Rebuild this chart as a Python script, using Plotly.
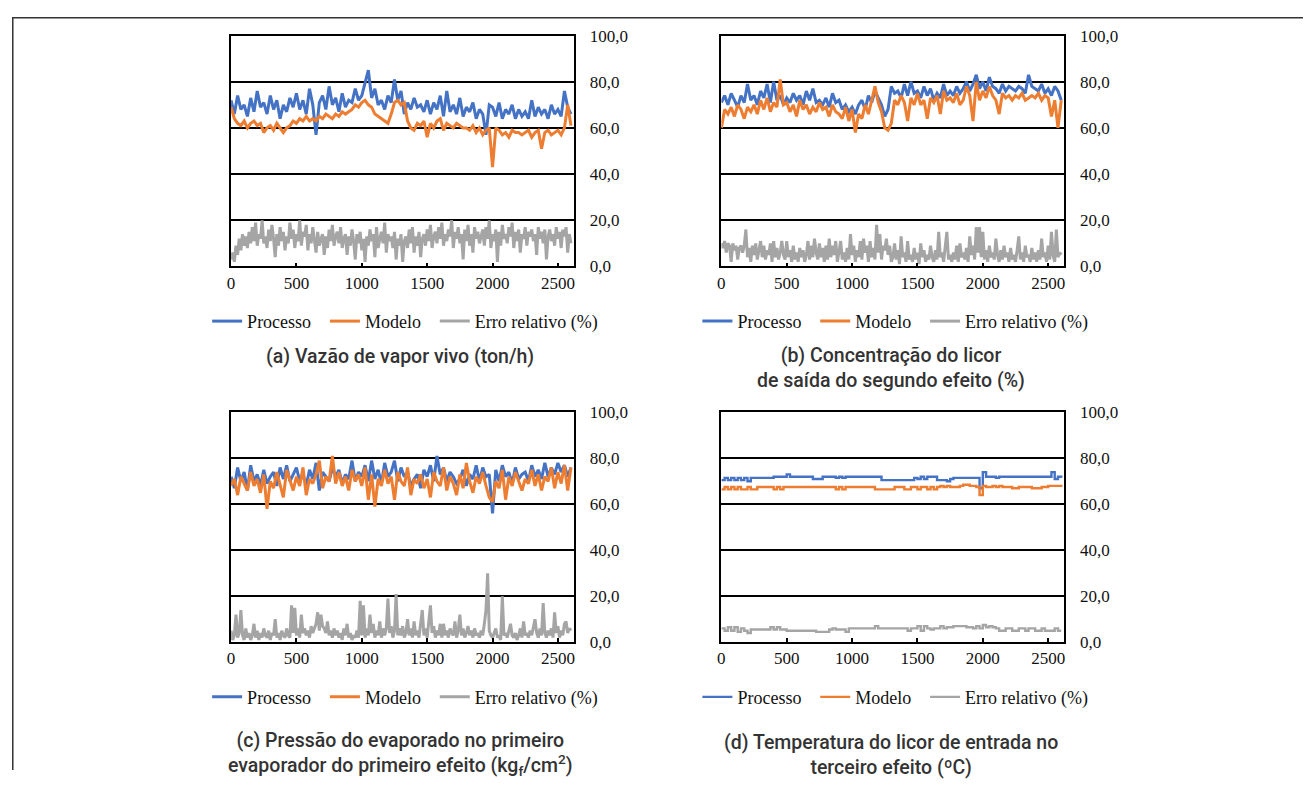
import plotly.graph_objects as go

# ---------------- data ----------------
STEP = 25
N_POINTS = 105
time_index = [i * STEP for i in range(N_POINTS)]          # coarse samples (every 25)
time_index_fine = [i * 12.5 for i in range(209)]         # fine samples (every 12.5)

# (a) Vazão de vapor vivo
a_processo = [72,66,74,68,70,65,73,67,76,69, 71,66,74,68,72,64,70,67,73,69,
              75,68,72,66,77,70,57,71,74,68, 78,70,73,67,75,69,72,71,77,72,
              74,79,85,73,77,70,72,68,74,71, 81,72,76,66,71,68,73,69,70,67,
              72,66,71,68,74,65,76,67,70,66, 73,65,69,67,71,64,68,66,57,70,
              69,65,71,64,68,66,70,64,68,65, 67,64,72,65,69,66,68,64,70,66,
              68,65,76,69,66]
a_modelo = [69,64,62,61,63,60,62,63,61,62, 58,60,61,59,62,60,58,60,61,63,
            62,64,63,65,63,64,63,65,64,66, 65,64,66,65,67,66,67,68,70,69,
            71,72,70,69,66,65,64,63,62,66, 71,72,70,71,63,60,59,62,61,63,
            56,62,60,63,64,59,62,61,60,62, 61,60,60,59,61,58,60,57,59,60,
            43,60,59,57,58,56,59,58,58,57, 58,59,56,58,59,51,58,59,57,58,
            59,57,60,70,61]
a_erro = [3,6,2,9,5,12,7,14,9,13,8,15,10,
          17,11,19,9,14,12,20,10,13,8,16,11,18,
          12,4,14,9,17,11,15,7,13,10,19,12,16,
          8,14,11,20,9,15,13,18,7,14,10,17,12,
          6,15,9,12,14,5,13,8,16,11,18,9,13,
          15,10,17,8,12,14,5,13,9,16,11,3,14,
          10,15,7,12,2,13,9,16,11,14,4,17,8,
          12,15,10,19,6,14,11,13,8,15,3,12,9,
          14,2,11,13,8,16,10,17,6,13,9,15,4,
          12,14,9,16,11,18,8,13,15,10,17,12,19,
          9,14,11,16,13,20,8,15,12,17,10,14,3,
          16,11,18,9,14,6,17,12,15,10,13,16,9,
          17,12,20,8,14,11,16,2,15,9,18,12,14,
          10,17,13,19,8,15,11,16,6,14,12,17,9,
          15,13,16,11,14,5,17,12,15,10,16,3,13,
          16,11,14,9,17,12,15,8,16,13,17,6,14,
          10]

# (b) Concentração do licor de saída do segundo efeito
b_processo = [71,74,70,75,72,69,74,71,79,72, 74,70,76,73,79,71,80,72,74,70,
              73,71,75,72,74,70,76,72,77,71, 72,70,73,69,75,71,72,68,70,67,
              69,66,70,72,68,74,71,76,73,70, 65,68,78,75,76,73,79,74,80,75,
              76,73,78,74,77,72,75,73,79,74, 76,74,78,75,77,80,76,79,83,77,
              80,76,82,78,77,75,79,76,78,77, 76,78,77,75,83,78,77,76,79,75,
              77,74,78,76,72]
b_modelo = [60,68,66,69,65,70,68,64,69,67, 70,66,72,68,73,67,71,69,81,70,
            71,67,70,65,72,68,70,66,69,67, 71,68,69,65,70,67,66,64,69,63,
            68,58,66,64,70,66,72,78,71,67, 60,59,62,72,70,74,71,63,73,70,
            75,70,72,64,73,71,74,66,76,72, 73,71,75,70,72,78,74,63,80,72,
            76,73,78,74,72,66,75,73,74,72, 74,73,75,72,73,74,73,75,72,74,
            73,65,72,60,72]
b_erro = [10,8,11,6,10,9,2,10,7,9,3,8,9,
          6,9,16,4,8,2,9,5,10,3,8,11,4,
          9,3,7,5,10,2,11,4,8,3,6,11,5,
          3,11,4,7,2,9,3,6,2,8,4,7,2,
          5,11,3,9,4,12,6,3,10,4,8,2,9,
          3,12,4,9,5,11,2,7,11,3,6,2,8,
          3,14,5,9,2,7,4,11,3,12,6,9,2,
          11,4,8,3,18,6,14,3,9,7,12,5,9,
          2,4,10,3,7,1,13,4,6,2,11,3,5,
          2,8,3,6,1,10,4,7,2,5,3,9,4,
          2,7,3,15,4,6,2,8,15,3,5,2,6,
          3,9,2,10,4,6,3,8,2,13,5,9,3,
          17,6,17,4,15,3,7,2,9,4,6,3,12,
          5,2,7,3,9,4,6,2,8,3,5,2,7,
          13,3,6,2,9,4,5,2,8,3,6,2,7,
          3,12,4,6,2,9,3,15,5,2,16,4,6,
          5]

# (c) Pressão do evaporado no primeiro evaporador do primeiro efeito
c_processo = [72,67,76,70,74,66,77,70,73,68, 75,69,72,74,68,76,71,77,70,73,
              76,70,73,68,75,71,78,66,74,72, 70,76,72,75,69,73,71,79,70,74,
              72,77,70,79,71,75,69,78,72,74, 79,70,76,72,74,68,71,73,67,75,
              72,77,70,81,73,76,70,74,72,69, 71,75,68,73,71,77,70,76,72,73,
              56,75,70,77,72,74,69,76,71,73, 74,70,77,72,75,71,78,72,76,73,
              78,74,77,72,76]
c_modelo = [68,71,64,72,69,66,74,68,71,65, 73,58,70,67,74,69,63,75,70,66,
            72,68,76,64,71,69,73,79,67,72, 70,81,69,74,68,72,66,75,70,73,
            68,76,62,73,59,71,68,75,69,72, 62,74,70,68,76,64,71,69,73,67,
            71,63,74,70,68,76,66,72,69,64, 73,67,78,70,65,72,69,74,68,63,
            61,70,67,75,62,72,68,74,70,66, 71,69,75,68,73,66,72,70,76,67,
            74,69,77,66,76]
c_erro = [5,1,3,12,2,4,14,3,1,6,2,4,1,
          3,8,2,5,1,4,2,6,3,2,5,1,4,
          3,10,2,4,1,5,3,2,6,3,2,16,4,
          15,3,6,2,12,4,6,3,5,2,7,4,6,
          8,13,5,12,7,6,4,9,3,5,2,6,3,
          5,2,4,1,6,3,8,2,4,1,3,2,5,
          2,18,3,16,2,6,3,12,4,8,2,5,3,
          9,2,6,3,6,19,4,7,2,5,21,3,6,
          3,7,2,4,10,3,6,2,9,3,5,2,7,
          14,3,6,2,9,16,4,7,2,5,3,8,2,
          8,3,5,2,6,4,3,9,2,5,12,3,6,
          2,4,7,3,5,2,6,3,4,2,5,3,8,
          14,30,5,3,2,4,6,2,3,1,20,3,4,
          2,5,8,3,2,4,1,3,6,2,9,3,4,
          2,5,3,7,10,4,2,6,3,17,4,2,5,
          3,6,2,13,4,7,2,5,3,8,9,4,6,
          5]

# (d) Temperatura do licor de entrada no terceiro efeito
d_processo = [70.5,71.5,70.5,71.5,70.5,71.5,70.5,71.5,70,71.5,
              71.5,71.5,71.5,71.5,71.5,71.5,72,72,72,72,
              73,72,72,72,72,72,72,72,71,71,
              71,72,72,72,72,71.5,72,71.5,72,72,
              72,72,72,72,72,72,72,72,72,70.5,
              70.5,70.5,70.5,70.5,70.5,70.5,70.5,70.5,70.5,71.5,
              71,72,71,72,72,72,70.5,70.5,70.5,70,
              71,71.5,71.5,71.5,71.5,71.5,71.5,71.5,71.5,67,
              74,72,72,72,71.5,72,72,72,72,72,
              72,72,72,72,72,72,72,72,72,72,
              72,74,71,72,71.5]
d_modelo = [66.5,67.5,66.5,67.5,66.5,67.5,66.5,66.5,67.5,66.5,
            66.5,67.5,67.5,67.5,67.5,67.5,66.5,67.5,66.5,67.5,
            67.5,67.5,67.5,67.5,67.5,67.5,67.5,67.5,67.5,67.5,
            67.5,67.5,67.5,67.5,67.5,66.5,67.5,66.5,67.5,67.5,
            67.5,67.5,67.5,67.5,67.5,67.5,67.5,66.5,66.5,66.5,
            66.5,66.5,66.5,67.5,67.5,67.5,66.5,66.5,67.5,67.5,
            66.5,67.5,67.5,66.5,67.5,66.5,67.5,68,67.5,68,
            67.5,67.5,67.5,68,68.5,68.5,68,68,67.5,64,
            68,67.5,67.5,68,67.5,68,67.5,67.5,67.5,67,
            67,67.5,67.5,67.5,67.5,67,67,67,67.5,67.5,
            68,68,68,68,67.5]
d_erro = [6,5,6.5,5,6.5,4.5,6,5,4,5.5,
          5.5,5.5,5.5,5.5,5.5,6.5,5.5,6.5,5.5,5.5,
          5,5,5,5,5,5,5,5,5,4.5,
          4.5,4.5,4.5,5.5,6,5.5,5.5,5.5,4.5,6,
          6,6,6,6,6,6,6,7,6,6,
          6,6,6,6,6,6,6,5,6,6,
          7,5,7,6,5.5,6,6,7,6,6.5,
          6.5,7,7,7,7,6.5,6.5,6,7,6,
          7.5,6.5,7,6.5,6,5,5,6,6,5,
          5,6,6,5,6,6,5,5,6,5,
          5,5,6,5,5]

series_names = ["Processo", "Modelo", "Erro relativo (%)"]
series_colors = ["#4472C4", "#ED7D31", "#A5A5A5"]
y_tick_vals = [0, 20, 40, 60, 80, 100]
y_tick_text = ["0,0", "20,0", "40,0", "60,0", "80,0", "100,0"]
x_tick_vals = [0, 500, 1000, 1500, 2000, 2500]

titles = [
    "(a) Vazão de vapor vivo (ton/h)",
    "(b) Concentração do licor<br>de saída do segundo efeito (%)",
    "(c) Pressão do evaporado no primeiro<br>evaporador do primeiro efeito (kg<sub>f</sub>/cm<sup>2</sup>)",
    "(d) Temperatura do licor de entrada no<br>terceiro efeito (ºC)",
]
panel_data = [
    ((time_index, a_processo), (time_index, a_modelo), (time_index_fine, a_erro)),
    ((time_index, b_processo), (time_index, b_modelo), (time_index_fine, b_erro)),
    ((time_index, c_processo), (time_index, c_modelo), (time_index_fine, c_erro)),
    ((time_index, d_processo), (time_index, d_modelo), (time_index, d_erro)),
]

# ---------------- layout geometry (target screen pixels -> paper fractions) ----------------
W, H = 1296, 772
px_x = lambda v: ((v - 9.6) / 0.9976) / W
px_y = lambda v: 1 - ((v - 16.4) / 0.976) / H

panels = [
    dict(x0=229, x1=572, y0=35, y1=266, leg_y=321, title_y=356, lw=3, shape="linear"),
    dict(x0=720, x1=1063, y0=35, y1=266, leg_y=321, title_y=368, lw=3, shape="linear"),
    dict(x0=229, x1=572, y0=412, y1=642, leg_y=697, title_y=754, lw=3, shape="linear"),
    dict(x0=720, x1=1063, y0=412, y1=642, leg_y=697, title_y=755, lw=2.4, shape="hv"),
]
legend_offsets = [0, 118, 228]   # item origin offsets relative to first item

SERIF = "Liberation Serif, Times New Roman, serif"
SANS = "Roboto, Open Sans, sans-serif"

fig = go.Figure()
layout = dict(
    width=W, height=H,
    margin=dict(l=0, r=0, t=0, b=0),
    paper_bgcolor="white", plot_bgcolor="white",
    showlegend=True,
    font=dict(family=SERIF, size=17, color="#111111"),
)
annotations = []
leg_counter = 0
for p_i, (panel, data) in enumerate(zip(panels, panel_data)):
    k = "" if p_i == 0 else str(p_i + 1)
    xa, ya = "x" + k, "y" + k
    for s_i in range(3):
        leg_counter += 1
        leg_key = "legend" if leg_counter == 1 else "legend%d" % leg_counter
        xs, ys = data[s_i]
        fig.add_trace(go.Scatter(
            x=xs, y=ys, mode="lines", name=series_names[s_i],
            line=dict(color=series_colors[s_i], width=panel["lw"], shape=panel["shape"]),
            xaxis=xa, yaxis=ya, legend=leg_key, showlegend=True,
        ))
        layout[leg_key] = dict(
            x=px_x(panel["x0"] - 24 + legend_offsets[s_i]), xanchor="left",
            y=px_y(panel["leg_y"]), yanchor="middle",
            orientation="h", bgcolor="rgba(0,0,0,0)", borderwidth=0,
            font=dict(family=SERIF, size=18, color="#111111"),
        )
    layout["xaxis" + k] = dict(
        domain=[px_x(panel["x0"]), px_x(panel["x1"])], anchor=ya,
        range=[0, 2620], tickvals=x_tick_vals, ticks="inside", ticklen=4,
        tickcolor="black", tickwidth=1.5,
        showline=True, linecolor="black", linewidth=1.5, mirror=True,
        showgrid=False, zeroline=False,
        tickfont=dict(family=SERIF, size=17, color="#111111"),
    )
    layout["yaxis" + k] = dict(
        domain=[px_y(panel["y1"]), px_y(panel["y0"])], anchor=xa, side="right",
        range=[0, 100], tickvals=y_tick_vals, ticktext=y_tick_text,
        ticks="", ticklabelstandoff=11,
        showline=True, linecolor="black", linewidth=1.5, mirror=True,
        showgrid=True, gridcolor="black", gridwidth=1.5, zeroline=False,
        tickfont=dict(family=SERIF, size=17, color="#111111"),
    )
    annotations.append(dict(
        text=titles[p_i], xref="paper", yref="paper",
        x=px_x((panel["x0"] + panel["x1"]) / 2 - 2), y=px_y(panel["title_y"]),
        xanchor="center", yanchor="middle", showarrow=False, align="center",
        font=dict(family=SANS, size=19.5, color="#333333", weight=500),
    ))

layout["annotations"] = annotations
layout["shapes"] = [
    dict(type="line", xref="paper", yref="paper", x0=0, x1=1, y0=0.999, y1=0.999,
         line=dict(color="#333333", width=1.5)),
    dict(type="line", xref="paper", yref="paper", x0=0.0006, x1=0.0006, y0=0.999, y1=0,
         line=dict(color="#333333", width=1.5)),
]
fig.update_layout(**layout)
fig.write_html("out.html")
